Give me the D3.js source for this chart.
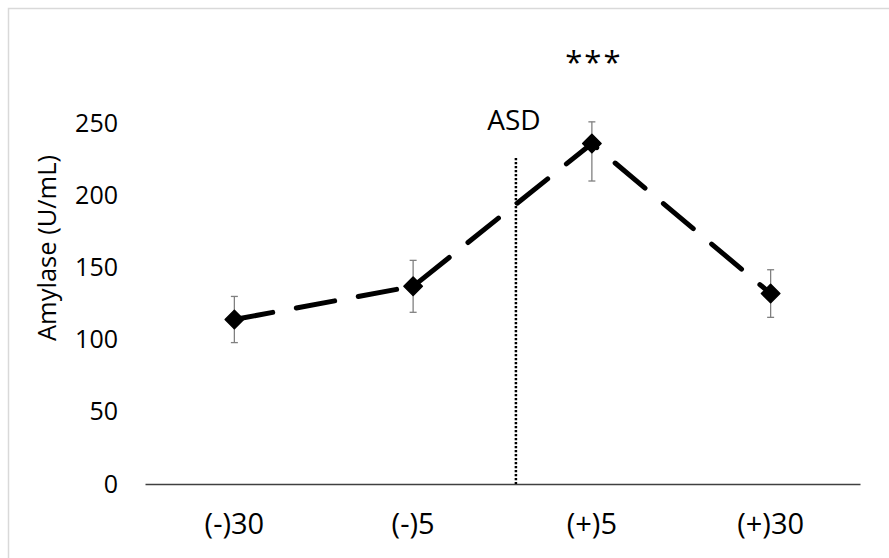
<!DOCTYPE html>
<html>
<head>
<meta charset="utf-8">
<script src="https://cdn.jsdelivr.net/npm/d3@7"></script>
<style>
  body { margin: 0; background: #fff; }
  text { font-family: "Open Sans", sans-serif; fill: #000; }
</style>
</head>
<body>
<div id="chart"></div>
<script>
// data
const categories = ["(-)30", "(-)5", "(+)5", "(+)30"];
const amylase = [114, 137, 236, 132];
const errUp = [16, 18, 15, 16.5];
const errDown = [16, 18, 26, 16.5];
const yTicks = [0, 50, 100, 150, 200, 250];
const asdIndex = 1.575;   // where the ASD line sits, in category units
const asdTop = 226;
const starLabel = "***";

const w = 889;
const h = 558;

const svg = d3
  .select("#chart")
  .append("svg")
  .attr("width", w)
  .attr("height", h);

// chart frame (runs off the right and bottom edges)
svg
  .append("rect")
  .attr("x", 8.5)
  .attr("y", 8.5)
  .attr("width", 920)
  .attr("height", 600)
  .attr("fill", "none")
  .attr("stroke", "#d9d9d9")
  .attr("stroke-width", 1.5);

const xScale = d3.scaleBand().domain(categories).range([145, 860]);
const xIdx = d3
  .scaleLinear()
  .domain([-0.5, categories.length - 0.5])
  .range([145, 860]);
const yScale = d3.scaleLinear().domain([0, 250]).range([484, 123.3]);
const cx = (d) => xScale(d) + xScale.bandwidth() / 2;

// y axis labels only
const yAxis = svg
  .append("g")
  .attr("transform", "translate(118,0)")
  .call(d3.axisLeft(yScale).tickValues(yTicks).tickSize(0).tickPadding(0));
yAxis.select(".domain").remove();
yAxis
  .selectAll("text")
  .style("font-family", "Open Sans, sans-serif")
  .style("font-size", "25px")
  .attr("fill", "#000");

// x axis
const xAxis = svg
  .append("g")
  .attr("transform", `translate(0,${yScale(0)})`)
  .call(d3.axisBottom(xScale).tickSize(0).tickPadding(29));
xAxis.select(".domain").attr("stroke", "#404040").attr("stroke-width", 1.7);
xAxis
  .selectAll("text")
  .style("font-family", "Open Sans, sans-serif")
  .style("font-size", "29px")
  .attr("fill", "#000");

// y title
svg
  .append("text")
  .attr("transform", `translate(46,${(153 + 343) / 2}) rotate(-90)`)
  .attr("text-anchor", "middle")
  .attr("dominant-baseline", "central")
  .style("font-size", "25.5px")
  .text("Amylase (U/mL)");

// ASD divider
svg
  .append("line")
  .attr("x1", xIdx(asdIndex))
  .attr("x2", xIdx(asdIndex))
  .attr("y1", yScale(asdTop))
  .attr("y2", yScale(0))
  .attr("stroke", "#000")
  .attr("stroke-width", 2.5)
  .attr("stroke-dasharray", "2.3 1.7");

svg
  .append("text")
  .attr("x", xIdx(asdIndex) - 2)
  .attr("y", 130)
  .attr("text-anchor", "middle")
  .style("font-size", "28px")
  .text("ASD");

// error bars
const eb = svg
  .selectAll(".err")
  .data(categories)
  .enter()
  .append("g")
  .attr("class", "err")
  .attr("stroke", "#808080")
  .attr("stroke-width", 1.3);

eb.append("line")
  .attr("x1", (d) => cx(d))
  .attr("x2", (d) => cx(d))
  .attr("y1", (d, i) => yScale(amylase[i] + errUp[i]))
  .attr("y2", (d, i) => yScale(amylase[i] - errDown[i]));
eb.append("line")
  .attr("x1", (d) => cx(d) - 3.5)
  .attr("x2", (d) => cx(d) + 3.5)
  .attr("y1", (d, i) => yScale(amylase[i] + errUp[i]))
  .attr("y2", (d, i) => yScale(amylase[i] + errUp[i]));
eb.append("line")
  .attr("x1", (d) => cx(d) - 3.5)
  .attr("x2", (d) => cx(d) + 3.5)
  .attr("y1", (d, i) => yScale(amylase[i] - errDown[i]))
  .attr("y2", (d, i) => yScale(amylase[i] - errDown[i]));

// dashed series line
const line = d3
  .line()
  .x((d, i) => cx(categories[i]))
  .y((d) => yScale(d));

svg
  .append("path")
  .datum(amylase)
  .attr("d", line)
  .attr("fill", "none")
  .attr("stroke", "#000")
  .attr("stroke-width", 5)
  .attr("stroke-linecap", "round")
  .attr("stroke-linejoin", "round")
  .attr("stroke-dasharray", "39 24");

// diamond markers
svg
  .selectAll(".marker")
  .data(amylase)
  .enter()
  .append("path")
  .attr("class", "marker")
  .attr("d", d3.symbol(d3.symbolSquare, 170)())
  .attr("transform", (d, i) => `translate(${cx(categories[i])},${yScale(d)}) rotate(45)`)
  .attr("fill", "#000")
  .attr("stroke", "#000")
  .attr("stroke-width", 1.5)
  .attr("stroke-linejoin", "round");

// significance stars over (+)5
svg
  .append("text")
  .attr("x", cx(categories[2]) + 2)
  .attr("y", 73)
  .attr("text-anchor", "middle")
  .style("font-size", "31px")
  .style("letter-spacing", "2px")
  .text(starLabel);
</script>
</body>
</html>
